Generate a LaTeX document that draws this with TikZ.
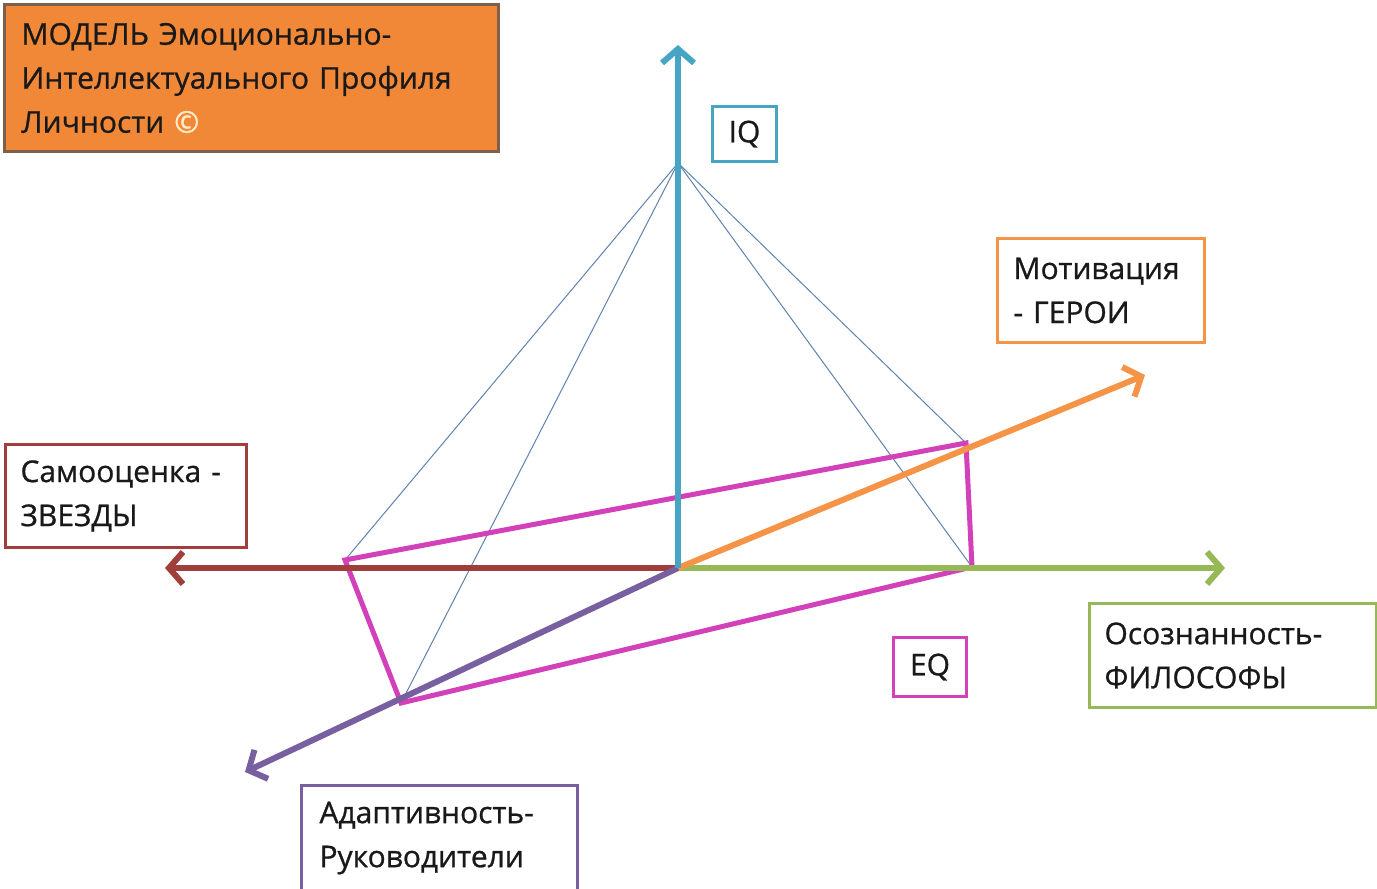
\documentclass[tikz,border=0pt]{standalone}
\usepackage{fontspec}
\setmainfont{Open Sans}[FakeBold=1]
\usetikzlibrary{arrows.meta}
\definecolor{titlefill}{RGB}{240,136,56}
\definecolor{titledraw}{RGB}{125,95,75}
\definecolor{cteal}{RGB}{70,165,195}
\definecolor{corange}{RGB}{245,148,70}
\definecolor{cred}{RGB}{160,62,60}
\definecolor{cgreen}{RGB}{150,185,85}
\definecolor{cpurple}{RGB}{120,95,160}
\definecolor{cmag}{RGB}{210,65,185}
\definecolor{cthin}{RGB}{95,130,175}
\definecolor{ctext}{RGB}{25,25,25}
\tikzset{
  lbl/.style={draw, line width=3pt, fill=white, anchor=north west, align=left, inner xsep=0pt,
    font=\fontsize{30}{44}\selectfont\addfontfeature{FakeBold=0.8}, text=ctext},
  axis/.style={line width=6pt, -{Straight Barb[length=14pt,width=32pt,line width=6pt]}},
  thin/.style={cthin, line width=1pt},
  quad/.style={cmag, line width=5pt, line join=miter},
}
\begin{document}
\begin{tikzpicture}[x=1pt,y=-1pt]
\useasboundingbox (0,0) rectangle (1377,889);
% points
\coordinate (O) at (678,568);
\coordinate (apex) at (678,163);
\coordinate (tipIQ) at (678,45);
\coordinate (tipL) at (165,568);
\coordinate (tipR) at (1225,568);
\coordinate (tipM) at (1145,375);
\coordinate (tipA) at (245,772);
\coordinate (qL) at (345,560);
\coordinate (qT) at (966,443);
\coordinate (qR) at (972,567);
\coordinate (qB) at (401,703);
% thin pyramid lines
\draw[thin] (apex) -- (qL);
\draw[thin] (apex) -- (qB);
\draw[thin] (apex) -- (qT);
\draw[thin] (apex) -- (qR);
% magenta quadrilateral
\draw[quad] (qL) -- (qT) -- (qR) -- (qB) -- cycle;
% axes
\draw[axis, cred] (O) -- (tipL);
\draw[axis, cgreen] (O) -- (tipR);
\draw[axis, corange] (O) -- (tipM);
\draw[axis, cpurple] (O) -- (tipA);
\draw[axis, cteal] (O) -- (tipIQ);
% labels
\node[lbl, draw=titledraw, fill=titlefill, minimum width=494pt, minimum height=147pt,
  text width=494pt] (title) at (3,3)
  {\hspace*{17pt}МОДЕЛЬ Эмоционально-\\\hspace*{17pt}Интеллектуального Профиля\\\hspace*{17pt}Личности {\color[RGB]{255,235,200}©}};
\node[lbl, draw=cteal, minimum width=64pt, minimum height=55pt, align=center] (iq) at (711,105) {IQ};
\node[lbl, draw=corange, minimum width=207pt, minimum height=104pt, text width=207pt] (mot) at (996,237)
  {\hspace*{16pt}Мотивация\\\hspace*{16pt}- ГЕРОИ};
\node[lbl, draw=cred, minimum width=241pt, minimum height=103pt, text width=241pt] (sam) at (4,443)
  {\hspace*{15pt}Самооценка -\\\hspace*{15pt}ЗВЕЗДЫ};
\node[lbl, draw=cgreen, minimum width=287pt, minimum height=104pt, text width=287pt] (oso) at (1088,602)
  {\hspace*{15pt}Осознанность-\\\hspace*{15pt}ФИЛОСОФЫ};
\node[lbl, draw=cmag, minimum width=73pt, minimum height=59pt, align=center] (eq) at (892,636) {EQ};
\node[lbl, draw=cpurple, minimum width=276pt, minimum height=105pt, text width=276pt] (ada) at (300,784)
  {\hspace*{18pt}Адаптивность-\\\hspace*{18pt}Руководители};
\end{tikzpicture}
\end{document}
